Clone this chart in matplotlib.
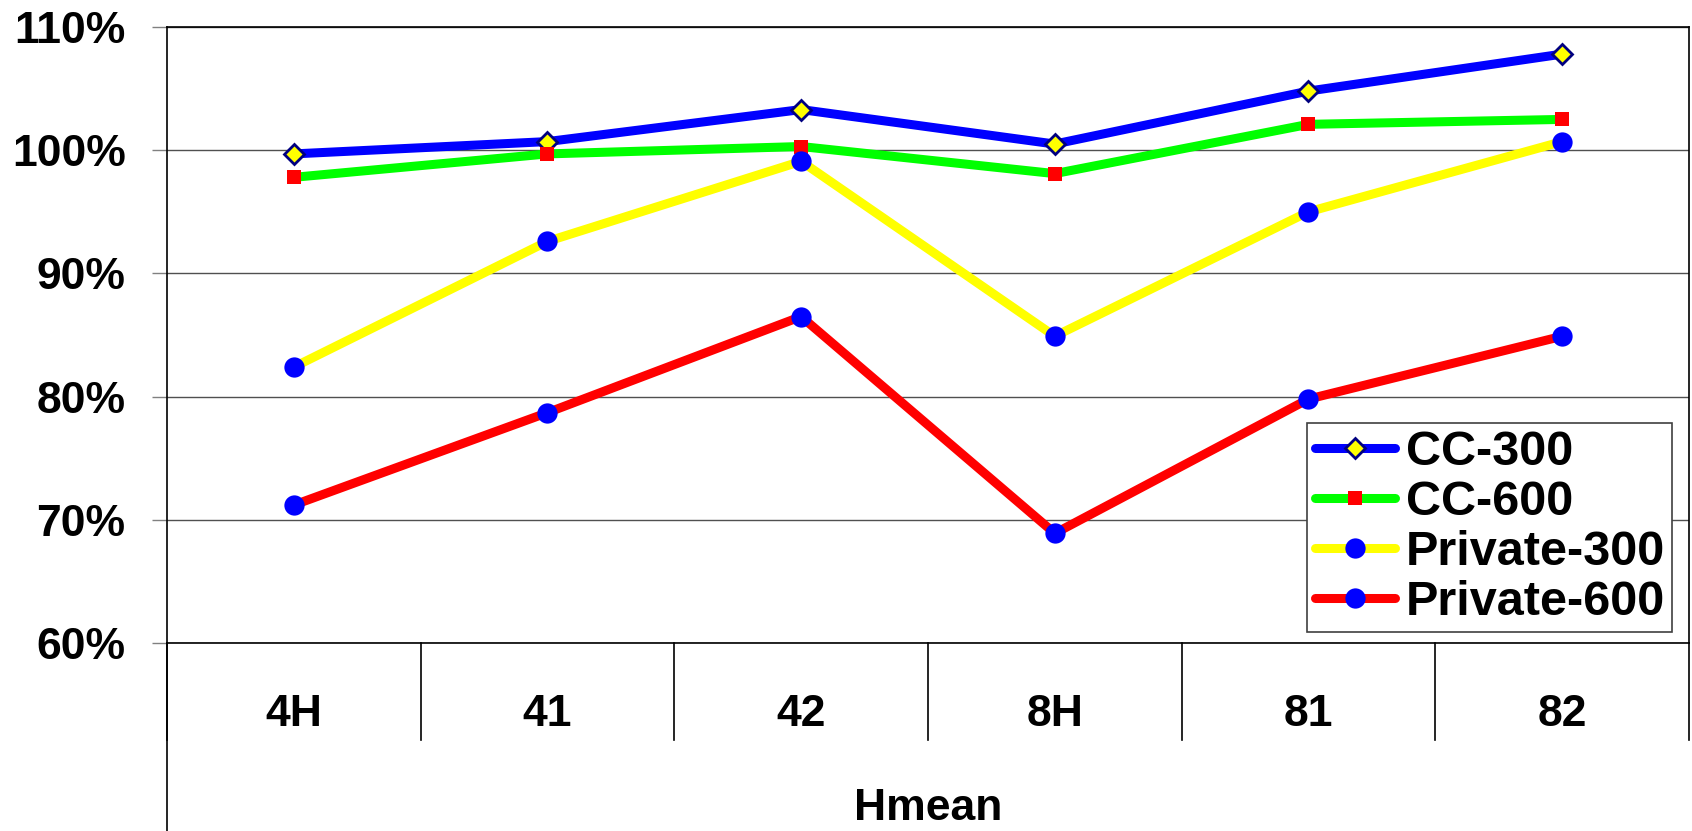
import numpy as np
import matplotlib
matplotlib.use('Agg')
import matplotlib.pyplot as plt
from matplotlib.lines import Line2D
from matplotlib.ticker import FuncFormatter

plt.rcParams['font.family'] = ['Liberation Sans', 'DejaVu Sans']
plt.rcParams['font.weight'] = 'bold'

categories = ['4H', '41', '42', '8H', '81', '82']
cc_300 = [99.7, 100.7, 103.3, 100.5, 104.8, 107.8]
cc_600 = [97.8, 99.7, 100.3, 98.1, 102.1, 102.5]
private_300 = [82.4, 92.6, 99.1, 84.9, 95.0, 100.7]
private_600 = [71.2, 78.7, 86.5, 68.9, 79.8, 84.9]
series_names = ['CC-300', 'CC-600', 'Private-300', 'Private-600']
y_ticks = [60, 70, 80, 90, 100, 110]
x_title = 'Hmean'

fig = plt.figure(figsize=(16.92, 8.31), dpi=100)
ax = fig.add_axes([0.0987, 0.2262, 0.8995, 0.7413])

x = np.arange(len(categories))
styles = [
    dict(color='#0000FF', marker='D', ms=10.6, mfc='#FFFF00', mec='#000080', mew=2),
    dict(color='#00FF00', marker='s', ms=10.6, mfc='#FF0000', mec='#FF0000', mew=0),
    dict(color='#FFFF00', marker='o', ms=14.6, mfc='#0000FF', mec='#0000FF', mew=0),
    dict(color='#FF0000', marker='o', ms=14.6, mfc='#0000FF', mec='#0000FF', mew=0),
]
values = [cc_300, cc_600, private_300, private_600]

handles = []
for vals, name, st in zip(values, series_names, styles):
    ax.plot(x, vals, lw=6.5, solid_capstyle='round', solid_joinstyle='round',
            clip_on=False, zorder=3, **st)
    handles.append(Line2D([], [], lw=6.5, solid_capstyle='round', label=name, **st))

ax.set_xlim(-0.5, len(categories) - 0.5)
ax.set_ylim(60, 110)
ax.set_yticks(y_ticks)
ax.yaxis.set_major_formatter(FuncFormatter(lambda v, _: '%d%%' % v))
ax.yaxis.grid(True, color='#505050', lw=1)
ax.set_axisbelow(True)
ax.tick_params(axis='y', length=10.8, width=1, color='#808080', pad=19, labelsize=32)

ax.set_xticks(x)
ax.set_xticklabels(categories)
ax.tick_params(axis='x', length=0, pad=37, labelsize=32)

for sp in ax.spines.values():
    sp.set_color('black')
    sp.set_linewidth(1.2)

# category dividers hanging under the axis, like an Excel category axis
trans = ax.get_xaxis_transform()
for b in np.arange(-0.5, len(categories)):
    ax.plot([b, b], [0, -0.157], transform=trans, color='black', lw=1.2, clip_on=False)
ax.plot([-0.5, -0.5], [0, -0.31], transform=trans, color='black', lw=1.2, clip_on=False)

ax.text(0.5, -0.268, x_title, transform=ax.transAxes, ha='center', va='center',
        fontsize=32, fontweight='bold')

leg = ax.legend(handles=handles, loc='lower right', bbox_to_anchor=(0.989, 0.018),
                borderaxespad=0, fontsize=35, fancybox=False, framealpha=1,
                edgecolor='#404040', handlelength=1.65, handletextpad=0.22,
                borderpad=0.15, labelspacing=0.1)
leg.get_frame().set_linewidth(1.2)

fig.savefig('out.png', dpi=100)
